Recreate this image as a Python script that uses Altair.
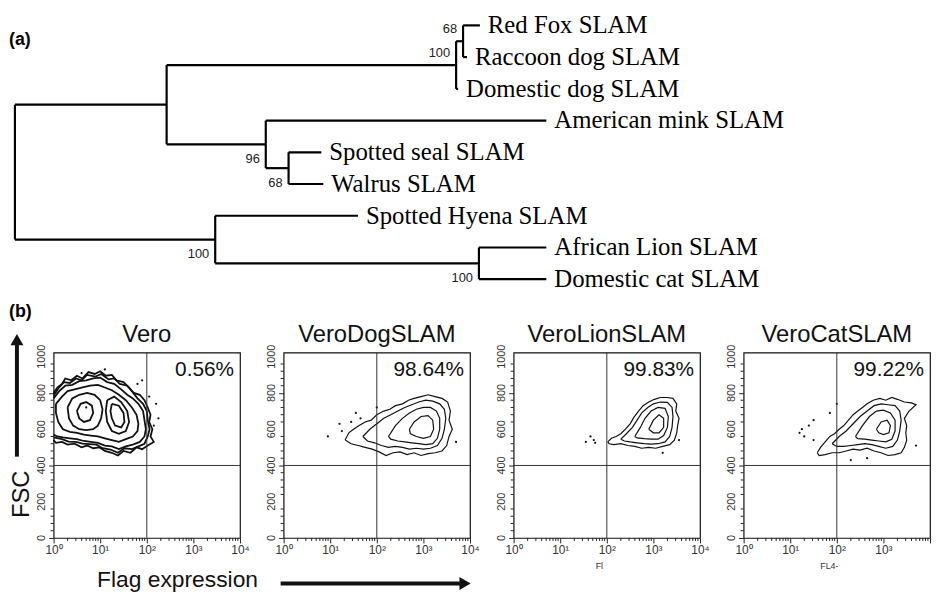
import math
import altair as alt
import pandas as pd

# ---------------- (a) tree data ----------------
leaf_names = ["Red Fox SLAM", "Raccoon dog SLAM", "Domestic dog SLAM", "American mink SLAM",
              "Spotted seal SLAM", "Walrus SLAM", "Spotted Hyena SLAM", "African Lion SLAM",
              "Domestic cat SLAM"]
leaf_depth = [469, 456, 447, 536, 309, 311, 346, 536, 536]
leaf_parent = ["C", "C", "B", "D", "E", "E", "F", "G", "G"]
node_ids = ["root", "A", "B", "C", "D", "E", "F", "G"]
node_depth = [0, 153, 445, 452, 253, 276, 202, 468]
node_parent = ["", "root", "A", "B", "A", "D", "root", "F"]
node_support = ["", "", "100", "68", "96", "68", "100", "100"]
support_above = ["B", "C"]

# ---------------- (b) flow panels ----------------
panel_titles = ["Vero", "VeroDogSLAM", "VeroLionSLAM", "VeroCatSLAM"]
panel_pct = ["0.56%", "98.64%", "99.83%", "99.22%"]
panel_xlabel = ["", "", "Fl", "FL4-"]
x_major = [0, 1, 2, 3, 4]
x_major_labels = ["10⁰", "10¹", "10²", "10³", "10⁴"]
y_major = [0, 200, 400, 600, 800, 1000]
gate_flag_log = 2.0   # 10^2
gate_fsc = 400

vero_contours = [
    [(0.00, 800), (0.08, 830), (0.18, 850), (0.25, 880), (0.38, 870), (0.50, 895), (0.62, 880),
     (0.75, 915), (0.88, 905), (1.00, 920), (1.12, 895), (1.25, 900), (1.35, 870), (1.50, 860),
     (1.62, 830), (1.72, 800), (1.85, 790), (1.95, 760), (2.02, 720), (2.08, 680), (2.05, 640),
     (2.12, 600), (2.08, 560), (2.15, 530), (2.02, 510), (1.90, 490), (1.78, 500), (1.65, 470),
     (1.50, 480), (1.38, 455), (1.25, 470), (1.10, 480), (0.98, 500), (0.85, 495), (0.72, 510),
     (0.60, 500), (0.45, 520), (0.30, 515), (0.18, 530), (0.05, 525), (0.00, 540)],
    [(0.00, 785), (0.10, 825), (0.22, 860), (0.35, 855), (0.48, 880), (0.60, 870), (0.72, 900),
     (0.90, 890), (1.02, 905), (1.18, 875), (1.30, 880), (1.42, 850), (1.58, 840), (1.68, 810),
     (1.80, 770), (1.92, 740), (2.00, 700), (2.02, 650), (2.06, 600), (2.02, 560), (1.95, 520),
     (1.82, 505), (1.68, 490), (1.52, 495), (1.38, 470), (1.22, 488), (1.05, 495), (0.92, 515),
     (0.78, 518), (0.62, 520), (0.48, 530), (0.32, 532), (0.18, 545), (0.00, 555)],
    [(0.00, 770), (0.12, 810), (0.25, 840), (0.40, 845), (0.55, 865), (0.70, 870), (0.85, 880),
     (1.00, 885), (1.15, 860), (1.30, 850), (1.45, 820), (1.58, 790), (1.70, 770), (1.82, 740),
     (1.92, 700), (1.95, 650), (1.98, 600), (1.95, 560), (1.85, 530), (1.70, 515), (1.55, 505),
     (1.40, 490), (1.25, 505), (1.10, 510), (0.95, 525), (0.80, 530), (0.65, 535), (0.50, 545),
     (0.35, 550), (0.20, 555), (0.08, 560), (0.00, 570)],
    [(0.05, 740), (0.18, 780), (0.30, 810), (0.45, 820), (0.60, 830), (0.78, 840), (0.95, 845),
     (1.10, 830), (1.25, 815), (1.40, 790), (1.55, 760), (1.68, 720), (1.78, 680), (1.82, 630),
     (1.80, 590), (1.70, 560), (1.55, 545), (1.40, 530), (1.25, 540), (1.10, 550), (0.95, 560),
     (0.80, 565), (0.65, 570), (0.50, 580), (0.35, 585), (0.20, 600), (0.10, 640), (0.05, 690),
     (0.05, 740)],
    [(0.30, 720), (0.40, 770), (0.55, 790), (0.72, 800), (0.88, 790), (1.00, 760), (1.05, 710),
     (1.02, 660), (0.95, 620), (0.85, 600), (0.70, 595), (0.55, 600), (0.42, 620), (0.33, 660),
     (0.30, 720)],
    [(1.15, 760), (1.30, 780), (1.45, 750), (1.58, 700), (1.62, 640), (1.55, 590), (1.40, 575),
     (1.25, 590), (1.15, 640), (1.12, 700), (1.15, 760)],
    [(1.25, 740), (1.40, 730), (1.50, 690), (1.52, 640), (1.45, 610), (1.32, 620), (1.25, 660),
     (1.22, 700), (1.25, 740)],
    [(0.50, 700), (0.58, 740), (0.70, 750), (0.82, 730), (0.85, 690), (0.78, 650), (0.65, 640),
     (0.55, 660), (0.50, 700)],
]
vero_dots = [(1.90, 870), (2.05, 780), (2.20, 740), (2.15, 620), (0.70, 720), (1.80, 850),
             (2.25, 660), (1.10, 930), (0.60, 910)]

dog_contours = [
    [(1.32, 540), (1.40, 580), (1.50, 600), (1.62, 620), (1.75, 640), (1.88, 650), (2.00, 680),
     (2.15, 700), (2.28, 710), (2.40, 730), (2.55, 740), (2.68, 760), (2.80, 770), (2.95, 780),
     (3.10, 790), (3.25, 780), (3.40, 770), (3.52, 750), (3.58, 700), (3.55, 650), (3.62, 600),
     (3.55, 560), (3.50, 510), (3.40, 480), (3.25, 470), (3.10, 465), (2.95, 455), (2.80, 470),
     (2.65, 460), (2.50, 475), (2.35, 470), (2.20, 455), (2.05, 475), (1.90, 490), (1.75, 500),
     (1.60, 510), (1.45, 520), (1.32, 540)],
    [(1.70, 560), (1.85, 600), (2.00, 630), (2.15, 660), (2.30, 680), (2.45, 700), (2.60, 720),
     (2.75, 735), (2.90, 750), (3.05, 760), (3.20, 755), (3.35, 740), (3.45, 710), (3.48, 660),
     (3.45, 600), (3.40, 550), (3.30, 510), (3.15, 495), (3.00, 490), (2.85, 495), (2.70, 490),
     (2.55, 500), (2.40, 505), (2.25, 500), (2.10, 510), (1.95, 525), (1.80, 535), (1.70, 560)],
    [(2.25, 560), (2.40, 620), (2.55, 660), (2.70, 690), (2.85, 710), (3.00, 720), (3.15, 720),
     (3.28, 700), (3.35, 660), (3.35, 600), (3.30, 550), (3.20, 520), (3.05, 515), (2.90, 520),
     (2.75, 525), (2.60, 530), (2.45, 535), (2.30, 545), (2.25, 560)],
    [(2.70, 600), (2.80, 640), (2.95, 670), (3.10, 675), (3.20, 650), (3.22, 600), (3.15, 560),
     (3.00, 550), (2.85, 560), (2.72, 575), (2.70, 600)],
]
dog_dots = [(0.95, 560), (1.20, 630), (1.25, 590), (1.55, 690), (1.45, 640), (1.65, 660),
            (3.70, 530), (2.00, 720)]

lion_contours = [
    [(2.02, 530), (2.10, 550), (2.20, 560), (2.30, 575), (2.40, 600), (2.50, 630), (2.58, 665),
     (2.68, 700), (2.78, 730), (2.90, 750), (3.02, 765), (3.15, 775), (3.30, 775), (3.42, 770),
     (3.50, 740), (3.48, 700), (3.55, 660), (3.52, 620), (3.50, 580), (3.45, 540), (3.35, 515),
     (3.20, 505), (3.05, 495), (2.90, 500), (2.75, 495), (2.60, 505), (2.45, 510), (2.30, 520),
     (2.15, 515), (2.05, 520), (2.02, 530)],
    [(2.30, 545), (2.42, 575), (2.55, 610), (2.65, 650), (2.75, 690), (2.88, 720), (3.00, 740),
     (3.15, 750), (3.30, 748), (3.40, 720), (3.42, 670), (3.40, 610), (3.35, 560), (3.25, 530),
     (3.10, 520), (2.95, 518), (2.80, 520), (2.65, 525), (2.50, 530), (2.38, 535), (2.30, 545)],
    [(2.60, 560), (2.72, 610), (2.82, 660), (2.95, 700), (3.10, 720), (3.25, 715), (3.32, 670),
     (3.30, 610), (3.22, 565), (3.10, 545), (2.95, 545), (2.80, 548), (2.65, 552), (2.60, 560)],
    [(2.90, 600), (3.00, 650), (3.12, 680), (3.22, 660), (3.22, 610), (3.12, 580), (3.00, 580),
     (2.90, 600)],
]
lion_dots = [(1.55, 530), (1.65, 560), (1.72, 540), (1.75, 525), (3.20, 470), (3.55, 540)]

cat_contours = [
    [(1.58, 470), (1.65, 500), (1.75, 530), (1.85, 560), (1.95, 575), (2.05, 600), (2.15, 620),
     (2.25, 650), (2.35, 680), (2.45, 700), (2.55, 720), (2.65, 740), (2.78, 760), (2.92, 770),
     (3.05, 760), (3.18, 775), (3.30, 765), (3.45, 750), (3.60, 745), (3.70, 735), (3.55, 700),
     (3.45, 660), (3.50, 620), (3.48, 580), (3.50, 540), (3.45, 500), (3.38, 470), (3.25, 460),
     (3.10, 455), (2.95, 470), (2.80, 480), (2.65, 495), (2.50, 485), (2.35, 490), (2.20, 480),
     (2.05, 470), (1.90, 470), (1.75, 460), (1.62, 455), (1.58, 470)],
    [(1.90, 520), (2.05, 560), (2.20, 590), (2.35, 630), (2.50, 670), (2.65, 700), (2.80, 730),
     (2.95, 740), (3.10, 735), (3.25, 730), (3.35, 700), (3.38, 650), (3.35, 590), (3.30, 540),
     (3.20, 505), (3.05, 495), (2.90, 505), (2.75, 515), (2.60, 520), (2.45, 515), (2.30, 510),
     (2.15, 505), (2.00, 505), (1.90, 520)],
    [(2.40, 560), (2.55, 620), (2.70, 670), (2.85, 700), (3.00, 705), (3.15, 690), (3.25, 650),
     (3.25, 590), (3.18, 545), (3.05, 530), (2.90, 535), (2.75, 540), (2.60, 545), (2.45, 548),
     (2.40, 560)],
    [(2.85, 600), (2.95, 640), (3.08, 650), (3.15, 620), (3.12, 580), (3.00, 570), (2.90, 580),
     (2.85, 600)],
]
cat_dots = [(1.20, 580), (1.25, 600), (1.40, 620), (1.50, 650), (1.30, 560), (1.50, 540),
            (2.00, 740), (1.85, 690), (2.30, 430), (2.65, 440), (3.70, 510)]

all_contours = [vero_contours, dog_contours, lion_contours, cat_contours]
all_dots = [vero_dots, dog_dots, lion_dots, cat_dots]
stroke_widths = [1.8, 1.2, 1.2, 1.2]

SANS = "Liberation Sans"
SERIF = "Liberation Serif"

# ---------------- build tree ----------------
children = {}
for n, p in zip(leaf_names, leaf_parent):
    children.setdefault(p, []).append(("leaf", n))
for n, p in zip(node_ids, node_parent):
    if p:
        children.setdefault(p, []).append(("node", n))
depth = {("leaf", n): d for n, d in zip(leaf_names, leaf_depth)}
depth.update({("node", n): d for n, d in zip(node_ids, node_depth)})
ypos = {("leaf", n): i for i, n in enumerate(leaf_names)}


def get_y(key):
    if key not in ypos:
        ys_ = [get_y(k) for k in children[key[1]]]
        ypos[key] = (min(ys_) + max(ys_)) / 2
    return ypos[key]


get_y(("node", "root"))
segs = []
for nid in node_ids:
    key = ("node", nid)
    kids = children[nid]
    ky = [get_y(k) for k in kids]
    segs.append(dict(x=depth[key], x2=depth[key], y=min(ky), y2=max(ky)))
    for k in kids:
        segs.append(dict(x=depth[key], x2=depth[k], y=get_y(k), y2=get_y(k)))
seg_df = pd.DataFrame(segs)
leaf_df = pd.DataFrame(dict(name=leaf_names, x=leaf_depth, y=list(range(len(leaf_names)))))
sup_df = pd.DataFrame(dict(id=node_ids, x=node_depth, y=[get_y(("node", n)) for n in node_ids],
                           label=node_support))
sup_df = sup_df[sup_df.label != ""]
sup_up = sup_df[sup_df.id.isin(support_above)]
sup_dn = sup_df[~sup_df.id.isin(support_above)]

TREE_W, TREE_H = 881, 282
xs = alt.Scale(domain=[0, 500], range=[-39, 461])
ys = alt.Scale(domain=[0, 8], range=[14, 270])

branches = alt.Chart(seg_df).mark_rule(color="black", strokeWidth=2.2).encode(
    x=alt.X("x:Q", scale=xs, axis=None), x2="x2:Q",
    y=alt.Y("y:Q", scale=ys, axis=None), y2="y2:Q")
leaves = alt.Chart(leaf_df).mark_text(align="left", baseline="middle", dx=8, font=SERIF,
                                      fontSize=25, color="black").encode(
    x=alt.X("x:Q", scale=xs, axis=None), y=alt.Y("y:Q", scale=ys, axis=None), text="name:N")
sup_a = alt.Chart(sup_up).mark_text(align="right", baseline="middle", dx=-6, dy=-12, font=SANS,
                                    fontSize=13, color="#222").encode(
    x=alt.X("x:Q", scale=xs, axis=None), y=alt.Y("y:Q", scale=ys, axis=None), text="label:N")
sup_b = alt.Chart(sup_dn).mark_text(align="right", baseline="middle", dx=-6, dy=15, font=SANS,
                                    fontSize=13, color="#222").encode(
    x=alt.X("x:Q", scale=xs, axis=None), y=alt.Y("y:Q", scale=ys, axis=None), text="label:N")
tag_a = alt.Chart(pd.DataFrame({"t": ["(a)"]})).mark_text(
    align="left", baseline="middle", font=SANS, fontSize=18, fontWeight="bold").encode(
    x=alt.value(-45), y=alt.value(29), text="t:N")
tree = alt.layer(branches, leaves, sup_a, sup_b, tag_a).properties(width=TREE_W, height=TREE_H)

# ---------------- panels ----------------
PW, PH = 188, 187
y_minor = [v for v in range(0, 1001, 40) if v % 200 != 0]
x_minor = [math.log10(k * 10 ** d) for d in range(4) for k in range(2, 10)]


def panel(i):
    rows = []
    for c, contour in enumerate(all_contours[i]):
        for j, (x, y) in enumerate(contour):
            rows.append(dict(c=c, o=j, x=x, y=y))
    cdf = pd.DataFrame(rows)
    ddf = pd.DataFrame(all_dots[i], columns=["x", "y"])
    labs = x_major_labels[:4] + ([x_major_labels[4]] if i < 3 else [""])
    lab_js = "[" + ",".join(f"'{s}'" for s in labs) + "]"
    xaxis = alt.Axis(values=x_major, grid=False, domain=False, title=None,
                     labelExpr=f"{lab_js}[round(datum.value)]",
                     tickSize=5, labelOverlap=False, labelFlush=False, labelFont=SANS,
                     labelFontSize=12, labelColor="#333", tickColor="#222", labelPadding=2)
    yaxis = alt.Axis(values=y_major, grid=False, domain=False, title=None, labels=False,
                     tickSize=5, tickColor="#222")
    xsc = alt.Scale(domain=[0, 4], nice=False, zero=False)
    ysc = alt.Scale(domain=[0, 1023], nice=False, zero=False)
    lines = alt.Chart(cdf).mark_line(color="#111", strokeWidth=stroke_widths[i]).encode(
        x=alt.X("x:Q", scale=xsc, axis=xaxis),
        y=alt.Y("y:Q", scale=ysc, axis=yaxis),
        detail="c:N", order="o:Q")
    dots = alt.Chart(ddf).mark_circle(size=5, color="#111", opacity=1).encode(
        x=alt.X("x:Q", scale=xsc), y=alt.Y("y:Q", scale=ysc))
    vgate = alt.Chart(pd.DataFrame({"g": [gate_flag_log]})).mark_rule(
        color="#333", strokeWidth=1).encode(x=alt.X("g:Q", scale=xsc))
    hgate = alt.Chart(pd.DataFrame({"g": [gate_fsc]})).mark_rule(
        color="#333", strokeWidth=1).encode(y=alt.Y("g:Q", scale=ysc))
    xmin_t = alt.Chart(pd.DataFrame({"v": x_minor})).mark_rule(
        color="#222", strokeWidth=1).encode(
        x=alt.X("v:Q", scale=xsc), y=alt.value(PH), y2=alt.value(PH + 3))
    ymin_t = alt.Chart(pd.DataFrame({"v": y_minor})).mark_rule(
        color="#222", strokeWidth=1).encode(
        y=alt.Y("v:Q", scale=ysc), x=alt.value(0), x2=alt.value(-3))
    ylab = alt.Chart(pd.DataFrame({"v": y_major, "t": [str(v) for v in y_major]})).mark_text(
        align="center", baseline="bottom", angle=270, font=SANS, fontSize=11,
        color="#333").encode(y=alt.Y("v:Q", scale=ysc), x=alt.value(-7), text="t:N")
    pct = alt.Chart(pd.DataFrame({"t": [panel_pct[i]]})).mark_text(
        align="right", baseline="alphabetic", font=SANS, fontSize=21, color="#111").encode(
        x=alt.value(PW - 6), y=alt.value(24), text="t:N")
    title = alt.Chart(pd.DataFrame({"t": [panel_titles[i]]})).mark_text(
        align="center", baseline="alphabetic", font=SANS, fontSize=24, color="#111").encode(
        x=alt.value(PW / 2), y=alt.value(-11), text="t:N")
    layers = [lines, dots, vgate, hgate, xmin_t, ymin_t, ylab, pct, title]
    if panel_xlabel[i]:
        layers.append(alt.Chart(pd.DataFrame({"t": [panel_xlabel[i]]})).mark_text(
            align="center", baseline="middle", font=SANS, fontSize=9, color="#333").encode(
            x=alt.value(PW * 0.46), y=alt.value(PH + 28), text="t:N"))
    if i == 0:
        lab = pd.DataFrame({"t": ["(b)"]})
        layers += [
            alt.Chart(lab).mark_text(align="left", baseline="middle", font=SANS, fontSize=18,
                                     fontWeight="bold").encode(
                x=alt.value(-45), y=alt.value(-41), text="t:N"),
            alt.Chart(pd.DataFrame({"t": ["FSC"]})).mark_text(
                align="center", baseline="middle", angle=270, font=SANS, fontSize=24,
                color="#111").encode(x=alt.value(-32), y=alt.value(143), text="t:N"),
            alt.Chart(lab).mark_rule(color="#111", strokeWidth=4).encode(
                x=alt.value(-37), y=alt.value(-10), y2=alt.value(105)),
            alt.Chart(lab).mark_point(shape="triangle-up", filled=True, size=170,
                                      color="#111", opacity=1).encode(
                x=alt.value(-37), y=alt.value(-13)),
            alt.Chart(pd.DataFrame({"t": ["Flag expression"]})).mark_text(
                align="center", baseline="middle", font=SANS, fontSize=23, color="#111").encode(
                x=alt.value(125), y=alt.value(229), text="t:N"),
            alt.Chart(lab).mark_rule(color="#111", strokeWidth=4).encode(
                x=alt.value(229), x2=alt.value(412), y=alt.value(233)),
            alt.Chart(lab).mark_point(shape="triangle-right", filled=True, size=170,
                                      color="#111", opacity=1).encode(
                x=alt.value(415), y=alt.value(233)),
        ]
    return alt.layer(*layers).properties(
        width=PW, height=PH,
        view=alt.ViewBackground(stroke="#111", strokeWidth=1.2))


row = alt.hconcat(*[panel(i) for i in range(4)], spacing=44, bounds="flush")
chart = alt.vconcat(tree, row, spacing=62, bounds="flush").properties(
    padding=0, background="white"
).configure_view(stroke="transparent")

chart.save("out.html", embed_options={"renderer": "svg", "actions": False})
